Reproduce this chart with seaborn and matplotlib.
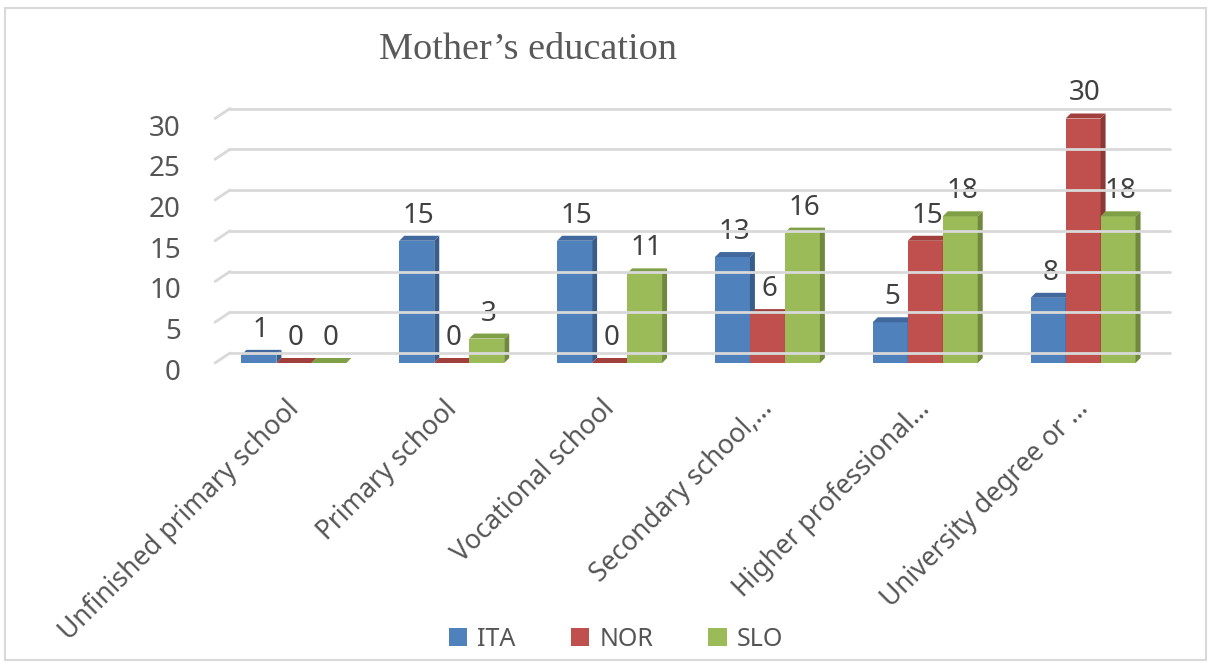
import numpy as np
import pandas as pd
import matplotlib
matplotlib.use("Agg")
import matplotlib.pyplot as plt
from matplotlib import transforms
from matplotlib.patches import Polygon, Rectangle
from matplotlib.lines import Line2D
import seaborn as sns

# ---------------- data ----------------
categories = ["Unfinished primary school", "Primary school", "Vocational school",
              "Secondary school,…", "Higher professional…", "University degree or …"]
series = ["ITA", "NOR", "SLO"]
ita = [1, 15, 15, 13, 5, 8]
nor = [0, 0, 0, 6, 15, 30]
slo = [0, 3, 11, 16, 18, 18]
y_ticks = [0, 5, 10, 15, 20, 25, 30]
title = "Mother\u2019s education"

colors = {"ITA": "#4F81BD", "NOR": "#C0504D", "SLO": "#9BBB59"}
side_colors = {"ITA": "#385D8A", "NOR": "#8C3836", "SLO": "#71893F"}
top_colors = {"ITA": "#41699E", "NOR": "#A13F3C", "SLO": "#7FA046"}

df = pd.DataFrame({
    "category": categories * 3,
    "country": [s for s in series for _ in categories],
    "value": ita + nor + slo,
})

sns.set_theme(style="white")
plt.rcParams["font.family"] = ["Noto Sans", "DejaVu Sans"]

W, H, DPI = 1212, 666, 100
fig = plt.figure(figsize=(W / DPI, H / DPI), dpi=DPI)
fig.patch.set_facecolor("white")

# axes placement in pixels (front plane)
ax_l, ax_r, ax_b, ax_t = 215, 1162, 363, 118.5
ax = fig.add_axes([ax_l / W, (H - ax_b) / H, (ax_r - ax_l) / W, (ax_b - ax_t) / H])
ax.set_facecolor("none")

sns.barplot(data=df, x="category", y="value", hue="country", order=categories,
            hue_order=series, palette=colors, width=0.665, gap=0, saturation=1,
            edgecolor="none", linewidth=0, legend=False, ax=ax)

ax.set_xlim(-0.5, len(categories) - 0.5)
ax.set_ylim(0, 30)
for sp in ax.spines.values():
    sp.set_visible(False)
ax.set_xlabel("")
ax.set_ylabel("")
ax.grid(False)

text_color = "#555555"

# ---- y tick labels
ax.set_yticks(y_ticks)
ax.set_yticklabels([str(t) for t in y_ticks], fontsize=20, color=text_color)
ax.tick_params(axis="y", length=0, pad=24.5)
for lab in ax.get_yticklabels():
    lab.set_transform(lab.get_transform() + transforms.ScaledTranslation(0, -6.5 / DPI, fig.dpi_scale_trans))

# ---- x tick labels
ax.set_xticks(range(len(categories)))
ax.set_xticklabels(categories, rotation=45, ha="right", va="top",
                   rotation_mode="anchor", fontsize=19, color=text_color)
ax.tick_params(axis="x", length=0, pad=0)
for lab in ax.get_xticklabels():
    lab.set_transform(lab.get_transform() + transforms.ScaledTranslation(-9 / DPI, -32 / DPI, fig.dpi_scale_trans))

# ---- pseudo-3D back wall gridlines
gdx, gdy = 15, 10
ident = transforms.IdentityTransform()
x_left = ax.transAxes.transform((0, 0))[0]
x_right_end = ax.transAxes.transform((1, 0))[0] + 8
for v in y_ticks:
    yf = ax.transData.transform((0, v))[1]
    fig.add_artist(Line2D([x_left, x_left + gdx], [yf, yf + gdy], transform=ident,
                          color="#d9d9d9", lw=2, zorder=0.5))
    fig.add_artist(Line2D([x_left + gdx, x_right_end], [yf + gdy, yf + gdy], transform=ident,
                          color="#d9d9d9", lw=2, zorder=0.5))

# ---- pseudo-3D faces on bars
bdx, bdy = 5, 5
bars = sorted([p for p in ax.patches], key=lambda p: p.get_x())
hue_for_color = {matplotlib.colors.to_hex(colors[s]): s for s in series}
for i, p in enumerate(bars):
    s = hue_for_color[matplotlib.colors.to_hex(p.get_facecolor())]
    x0, w, h = p.get_x(), p.get_width(), p.get_height()
    (xl, y0) = ax.transData.transform((x0, 0))
    (xr, yt) = ax.transData.transform((x0 + w, h))
    z = 3 + i
    p.set_zorder(z)
    top = Polygon([(xl, yt), (xr, yt), (xr + bdx, yt + bdy), (xl + bdx, yt + bdy)],
                  closed=True, transform=ident, facecolor=top_colors[s], edgecolor="none", zorder=z + 0.5)
    side = Polygon([(xr, y0), (xr, yt), (xr + bdx, yt + bdy), (xr + bdx, y0 + bdy)],
                   closed=True, transform=ident, facecolor=side_colors[s], edgecolor="none", zorder=z + 0.4)
    ax.add_artist(side)
    ax.add_artist(top)
    side.set_clip_on(False)
    top.set_clip_on(False)
    # data label
    ax.text((xl + xr) / 2 + 2, yt + bdy + 13, f"{int(h)}", transform=ident,
            ha="center", va="baseline", fontsize=20, color="#404040", zorder=50)

# ---- title
fig.text(528 / W, 1 - 59 / H, title, ha="center", va="baseline",
         fontsize=27.5, color="#595959", family=["Liberation Serif", "DejaVu Serif"])

# ---- legend
handles = [Rectangle((0, 0), 1, 1, facecolor=colors[s], edgecolor="none") for s in series]
leg = fig.legend(handles, series, loc="center", bbox_to_anchor=(616 / W, 1 - 639 / H),
                 ncol=3, frameon=False, fontsize=18, handlelength=0.75, handleheight=0.75,
                 handletextpad=0.4, columnspacing=2.2, borderaxespad=0)
for t in leg.get_texts():
    t.set_color(text_color)

# ---- chart border
fig.add_artist(Rectangle((5 / W, 6 / H), 1201 / W, 652 / H, transform=fig.transFigure,
                         facecolor="none", edgecolor="#d9d9d9", lw=1.5))

fig.savefig("out.png", dpi=DPI)
